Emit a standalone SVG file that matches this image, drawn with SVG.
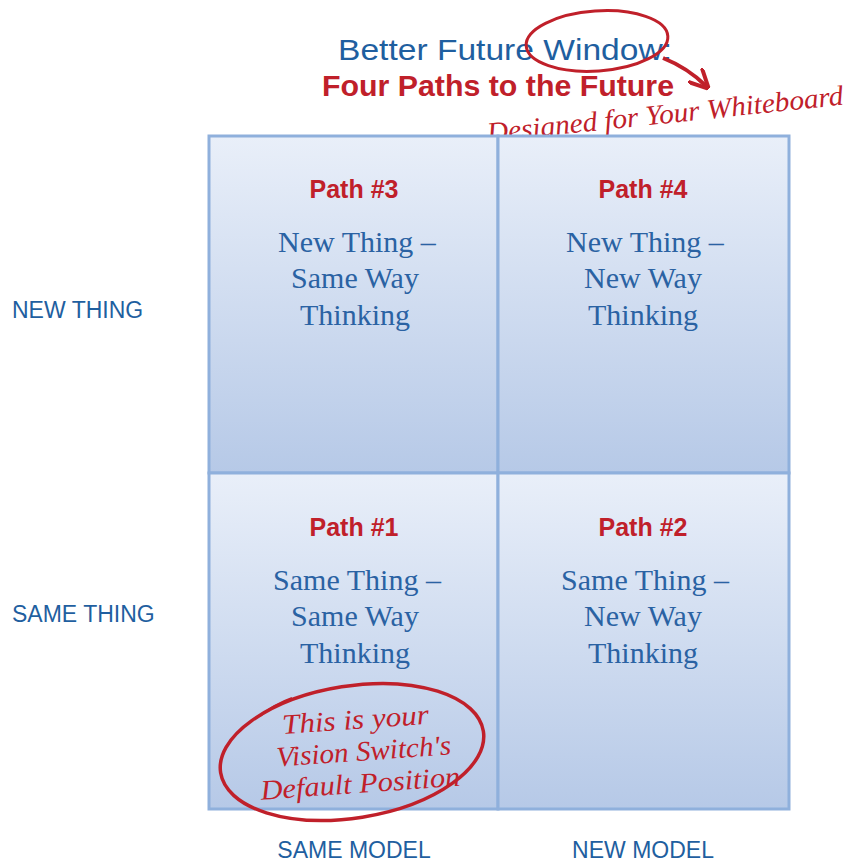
<svg xmlns="http://www.w3.org/2000/svg" width="850" height="863" viewBox="0 0 850 863">
<defs>
<linearGradient id="cellg" x1="0" y1="0" x2="0" y2="1">
<stop offset="0" stop-color="#e9eff9"/>
<stop offset="1" stop-color="#b6c9e7"/>
</linearGradient>
<marker id="arr" viewBox="0 0 10 10" refX="8" refY="5" markerWidth="5" markerHeight="5" orient="auto">
<path d="M0,0 L10,5 L0,10" fill="none" stroke="#c0202a" stroke-width="2"/>
</marker>
<style>
.cell{fill:url(#cellg);stroke:#8fb0dc;stroke-width:3}
.path{font-family:"Liberation Sans",Arial,sans-serif;font-weight:bold;font-size:25px;fill:#c0202a;text-anchor:middle}
.desc{font-family:"Liberation Serif","Times New Roman",serif;font-size:30px;fill:#2a62a3;text-anchor:middle}
.axis{font-family:"Liberation Sans",Arial,sans-serif;font-size:23px;fill:#1f5fa0}
.hand{font-family:"Liberation Serif","Times New Roman",serif;font-style:italic;fill:#c0202a}
</style>
</defs>
<rect width="850" height="863" fill="#ffffff"/>
<g id="title">
<text x="338" y="60" font-family="Liberation Sans, Arial, sans-serif" font-size="29" fill="#1f5fa0" textLength="334" lengthAdjust="spacingAndGlyphs">Better Future Window:</text>
<text x="322" y="96" font-family="Liberation Sans, Arial, sans-serif" font-size="30" font-weight="bold" fill="#c0202a" textLength="352" lengthAdjust="spacingAndGlyphs">Four Paths to the Future</text>
<text class="hand" x="488" y="142" font-size="28" transform="rotate(-6 488 142)" textLength="358" lengthAdjust="spacingAndGlyphs">Designed for Your Whiteboard</text>
<ellipse cx="597" cy="41" rx="71" ry="30" fill="none" stroke="#c0202a" stroke-width="3" transform="rotate(-4 597 41)"/>
<path d="M663,58 Q688,68 706,86" fill="none" stroke="#c0202a" stroke-width="4" marker-end="url(#arr)"/>
</g>
<g id="cell3">
<rect class="cell" x="209" y="136" width="289" height="337"/>
<text class="path" x="354" y="198">Path #3</text>
<text class="desc" x="357" y="252">New Thing –</text>
<text class="desc" x="355" y="288">Same Way</text>
<text class="desc" x="355" y="325">Thinking</text>
</g>
<g id="cell4">
<rect class="cell" x="498" y="136" width="291" height="337"/>
<text class="path" x="643" y="198">Path #4</text>
<text class="desc" x="645" y="252">New Thing –</text>
<text class="desc" x="643" y="288">New Way</text>
<text class="desc" x="643" y="325">Thinking</text>
</g>
<g id="cell1">
<rect class="cell" x="209" y="473" width="289" height="336"/>
<text class="path" x="354" y="536">Path #1</text>
<text class="desc" x="357" y="590">Same Thing –</text>
<text class="desc" x="355" y="626">Same Way</text>
<text class="desc" x="355" y="663">Thinking</text>
</g>
<g id="cell2">
<rect class="cell" x="498" y="473" width="291" height="336"/>
<text class="path" x="643" y="536">Path #2</text>
<text class="desc" x="645" y="590">Same Thing –</text>
<text class="desc" x="643" y="626">New Way</text>
<text class="desc" x="643" y="663">Thinking</text>
</g>
<g id="axes">
<text class="axis" x="12" y="318">NEW THING</text>
<text class="axis" x="12" y="622">SAME THING</text>
<text class="axis" x="354" y="858" text-anchor="middle">SAME MODEL</text>
<text class="axis" x="643" y="858" text-anchor="middle">NEW MODEL</text>
</g>
<g id="note">
<ellipse cx="352" cy="752" rx="133" ry="66" fill="none" stroke="#c0202a" stroke-width="3.5" transform="rotate(-9 352 752)"/>
<path d="M260,716 Q275,704 292,698" fill="none" stroke="#c0202a" stroke-width="2"/>
<g transform="rotate(-4 355 750)">
<text class="hand" x="284" y="729" font-size="28" textLength="147" lengthAdjust="spacingAndGlyphs">This is your</text>
<text class="hand" x="276" y="761" font-size="28" textLength="175" lengthAdjust="spacingAndGlyphs">Vision Switch's</text>
<text class="hand" x="258" y="793" font-size="28" textLength="200" lengthAdjust="spacingAndGlyphs">Default Position</text>
</g>
</g>
</svg>
